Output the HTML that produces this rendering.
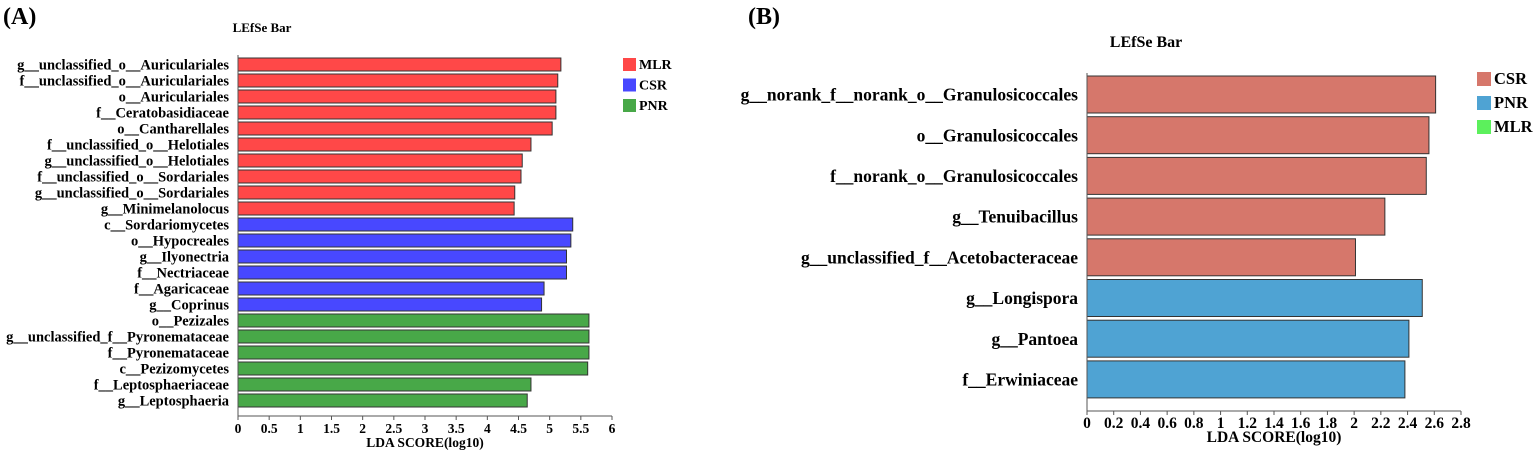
<!DOCTYPE html>
<html><head><meta charset="utf-8"><style>
body{margin:0;background:#fff}
svg{display:block;font-family:"Liberation Serif",serif;font-weight:bold}
</style></head><body>
<svg id="s" width="1535" height="454" viewBox="0 0 1535 454" xmlns="http://www.w3.org/2000/svg">
<text x="3" y="24" font-size="24">(A)</text>
<text x="262" y="32" font-size="13" text-anchor="middle">LEfSe Bar</text>
<text x="748" y="24" font-size="24">(B)</text>
<text x="1146" y="47" font-size="16" text-anchor="middle">LEfSe Bar</text>
<g id="ga"></g>
<g id="gb"></g>
</svg>
<script>
const catsA=["g__unclassified_o__Auriculariales","f__unclassified_o__Auriculariales","o__Auriculariales","f__Ceratobasidiaceae","o__Cantharellales","f__unclassified_o__Helotiales","g__unclassified_o__Helotiales","f__unclassified_o__Sordariales","g__unclassified_o__Sordariales","g__Minimelanolocus","c__Sordariomycetes","o__Hypocreales","g__Ilyonectria","f__Nectriaceae","f__Agaricaceae","g__Coprinus","o__Pezizales","g__unclassified_f__Pyronemataceae","f__Pyronemataceae","c__Pezizomycetes","f__Leptosphaeriaceae","g__Leptosphaeria"];
const valsA=[5.18,5.13,5.10,5.10,5.04,4.70,4.56,4.54,4.44,4.43,5.37,5.34,5.27,5.27,4.91,4.87,5.63,5.63,5.63,5.61,4.70,4.64];
const grpA=["MLR","MLR","MLR","MLR","MLR","MLR","MLR","MLR","MLR","MLR","CSR","CSR","CSR","CSR","CSR","CSR","PNR","PNR","PNR","PNR","PNR","PNR"];
const legA=["MLR","CSR","PNR"];
const ticksA=[0,0.5,1,1.5,2,2.5,3,3.5,4,4.5,5,5.5,6];
const catsB=["g__norank_f__norank_o__Granulosicoccales","o__Granulosicoccales","f__norank_o__Granulosicoccales","g__Tenuibacillus","g__unclassified_f__Acetobacteraceae","g__Longispora","g__Pantoea","f__Erwiniaceae"];
const valsB=[2.61,2.56,2.54,2.23,2.01,2.51,2.41,2.38];
const grpB=["CSR","CSR","CSR","CSR","CSR","PNR","PNR","PNR"];
const legB=["CSR","PNR","MLR"];
const ticksB=[0,0.2,0.4,0.6,0.8,1,1.2,1.4,1.6,1.8,2,2.2,2.4,2.6,2.8];
const NS="http://www.w3.org/2000/svg";
function mk(p,t,a){const e=document.createElementNS(NS,t);for(const k in a)e.setAttribute(k,a[k]);p.appendChild(e);return e;}
function draw(g,o){
  const x=v=>o.x0+v/o.max*(o.x1-o.x0);
  const y=i=>o.y0+i*o.pitch;
  o.cats.forEach((c,i)=>{
    const r=mk(g,'rect',{x:x(0),y:y(i),width:x(o.vals[i])-x(0),height:o.bh,fill:o.col[o.grp[i]],stroke:'#333','stroke-width':1});
    
    
    const t=mk(g,'text',{x:o.x0-9,y:y(i)+o.bh/2+o.fs*0.35,'font-size':o.fs,'text-anchor':'end'});
    t.textContent=c;
    
    
  });
  mk(g,'line',{x1:x(0),x2:x(o.max),y1:o.ay,y2:o.ay,stroke:'#555','stroke-width':1});
  mk(g,'line',{x1:x(0),x2:x(0),y1:o.y0-3,y2:o.ay,stroke:'#555','stroke-width':1});
  o.ticks.forEach(tv=>{
    mk(g,'line',{x1:x(tv),x2:x(tv),y1:o.ay,y2:o.ay+4,stroke:'#555'});
    const t=mk(g,'text',{x:x(tv),y:o.ay+17,'font-size':o.tfs,'text-anchor':'middle'});
    t.textContent=tv;
    
    
  });
  const at=mk(g,'text',{x:(x(0)+x(o.max))/2,y:o.ay+31,'font-size':o.tfs,'text-anchor':'middle'});
  at.textContent='LDA SCORE(log10)';
  
  
  o.leg.forEach((l,i)=>{
    const r=mk(g,'rect',{x:o.lx,y:o.ly+i*o.lp,width:o.ls,height:o.ls,fill:o.col[l]});
    
    
    const t=mk(g,'text',{x:o.lx+o.ls+3,y:o.ly+i*o.lp+o.ls-2,'font-size':o.lfs});
    t.textContent=l;
    
    
  });
}
draw(document.getElementById('ga'),{cats:catsA,vals:valsA,grp:grpA,leg:legA,ticks:ticksA,max:6,x0:238,x1:612,y0:58,pitch:16.0,bh:13,fs:14.5,tfs:13.5,ay:416,
  col:{MLR:'#ff4848',CSR:'#4848ff',PNR:'#48a848'},lx:623,ly:58,lp:20.5,ls:13,lfs:14});
draw(document.getElementById('gb'),{cats:catsB,vals:valsB,grp:grpB,leg:legB,ticks:ticksB,max:2.8,x0:1087,x1:1461,y0:76,pitch:40.7,bh:37,fs:17.5,tfs:15.5,ay:411,
  col:{CSR:'#d6776b',PNR:'#4fa3d3',MLR:'#5cf05c'},lx:1477,ly:72,lp:24,ls:14,lfs:16.5});
</script>
</body></html>
